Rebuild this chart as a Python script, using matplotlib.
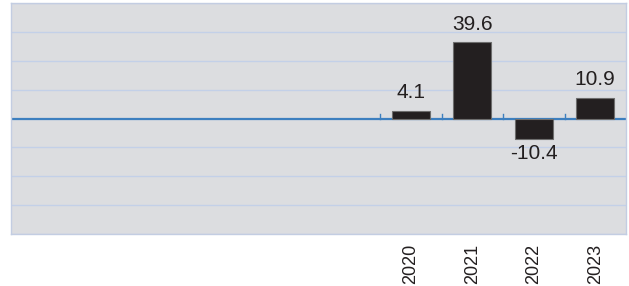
import matplotlib.pyplot as plt
import numpy as np

plt.rcParams['font.family'] = ['Liberation Sans', 'DejaVu Sans']

years = ['2014', '2015', '2016', '2017', '2018', '2019', '2020', '2021', '2022', '2023']
shown = ['', '', '', '', '', '', '2020', '2021', '2022', '2023']
values = [np.nan, np.nan, np.nan, np.nan, np.nan, np.nan, 4.1, 39.6, -10.4, 10.9]

fig = plt.figure(figsize=(6.29, 2.86), dpi=100)
ax = fig.add_axes([11/629, 1 - 234/286, 615/629, 231/286])
ax.set_facecolor('#dcdde0')

x = np.arange(len(years))
ax.set_xlim(-0.5, len(years) - 0.5)
ax.set_ylim(-60, 60)
ax.set_yticks(np.arange(-60, 61, 15))
ax.yaxis.grid(True, color='#c3d0e8', linewidth=1)
ax.set_axisbelow(True)
ax.tick_params(axis='y', length=0, labelleft=False)

ax.bar(x, values, width=0.62, color='#231f20', edgecolor='#6d6d6d', linewidth=0.8, zorder=3)
ax.axhline(0, color='#3d7fbf', linewidth=1.6, zorder=2)

# small tick marks between labelled categories
for b in [5.5, 6.5, 7.5, 8.5]:
    ax.plot([b, b], [0, 2.5], color='#3d7fbf', linewidth=1, zorder=2)

for xi, v in zip(x, values):
    if np.isnan(v):
        continue
    if v >= 0:
        ax.annotate(f'{v:.1f}', (xi, v), xytext=(0, 6), textcoords='offset points',
                    ha='center', va='bottom', fontsize=15, color='#231f20')
    else:
        ax.annotate(f'{v:.1f}', (xi, v), xytext=(0, -4), textcoords='offset points',
                    ha='center', va='top', fontsize=15, color='#231f20')

ax.set_xticks(x)
ax.set_xticklabels(shown, rotation=90, fontsize=13, color='#231f20')
ax.tick_params(axis='x', length=0, pad=7)

for s in ax.spines.values():
    s.set_color('#c3cde2')
    s.set_linewidth(1)

fig.savefig('out.png', dpi=100)
